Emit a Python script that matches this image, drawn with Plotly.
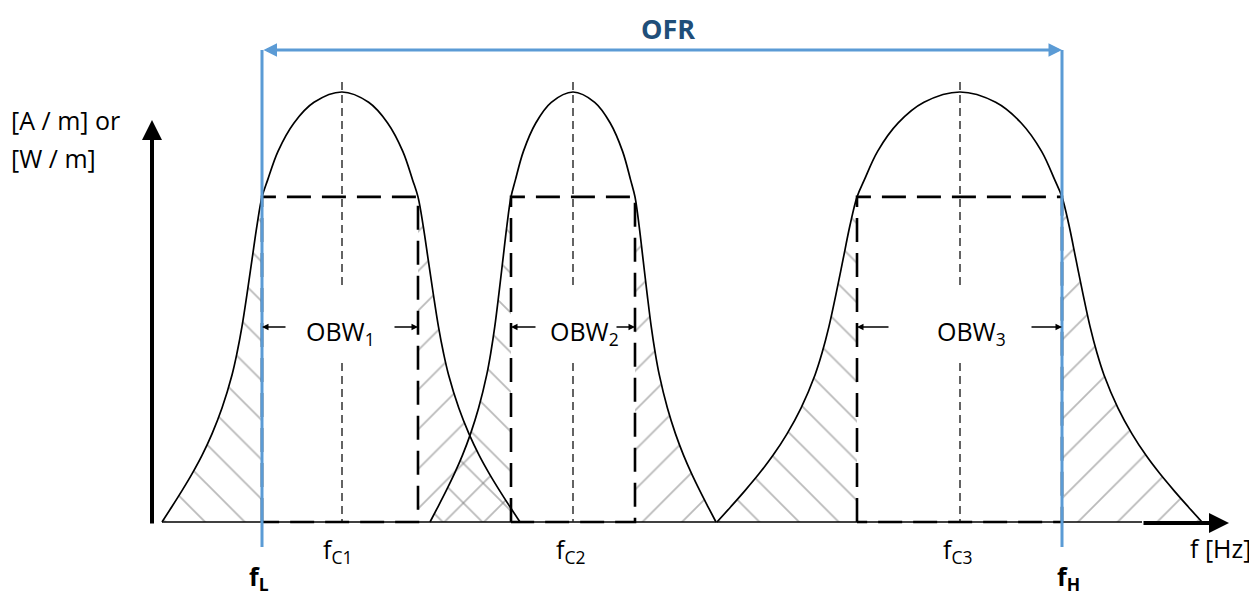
import plotly.graph_objects as go

# ---------------- data (frequency in arbitrary units, amplitude normalised: peak = 1) -------------
band_ids = ["1", "2", "3"]
centre_freq = [342, 573, 960]          # f_C1, f_C2, f_C3
foot_low = [162, 430, 717]             # where each emission meets the baseline (left)
foot_high = [520, 716, 1202]           # where each emission meets the baseline (right)
obw_low = [262, 511, 857]              # occupied bandwidth lower edges
obw_high = [418, 635, 1062]            # occupied bandwidth upper edges
peak_amp = [1.0, 1.0, 1.0]
obw_level = 0.756                      # amplitude of the OBW rectangle top
f_L = 262
f_H = 1062

# normalised bell profile
inner_t = [0.0, 0.35, 0.6, 0.8, 0.93, 1.0]          # centre -> OBW edge (fraction)
inner_r = [1.0, 0.976, 0.928, 0.862, 0.795, 0.756]
outer_s = [0.0, 0.05, 0.1, 0.15, 0.2, 0.25, 0.3, 0.4, 0.5, 0.6, 0.7, 0.8, 0.9, 1.0]  # OBW edge -> foot
outer_r = [0.756, 0.69, 0.61, 0.53, 0.455, 0.393, 0.342, 0.265, 0.205, 0.155, 0.112, 0.073, 0.036, 0.0]


def amp(py):
    """pixel row of the 1257x595 canvas -> amplitude (layout helper)"""
    return (522 - py) / 430


def side(c, edge, foot, pk):
    xs = [c + t * (edge - c) for t in inner_t] + [edge + s * (foot - edge) for s in outer_s[1:]]
    ys = [pk * r for r in inner_r] + [pk * r for r in outer_r[1:]]
    return xs, ys


fig = go.Figure()
HATCH = "#767676"

# hatched tails
for c, lo, hi, fl, fh, pk in zip(centre_freq, obw_low, obw_high, foot_low, foot_high, peak_amp):
    for edge, foot, shp in ((lo, fl, "\\"), (hi, fh, "/")):
        xs = [edge + s * (foot - edge) for s in outer_s] + [edge, edge]
        ys = [pk * r for r in outer_r] + [0, pk * outer_r[0]]
        fig.add_trace(go.Scatter(
            x=xs, y=ys, mode="lines", fill="toself", line=dict(width=0),
            fillcolor="rgba(0,0,0,0)",
            fillpattern=dict(shape=shp, size=28, solidity=0.065, fgcolor=HATCH,
                             bgcolor="rgba(0,0,0,0)"),
            hoverinfo="skip", showlegend=False))

# baseline (thin)
fig.add_trace(go.Scatter(x=[min(foot_low), 1142], y=[0, 0], mode="lines",
                         line=dict(color="black", width=1.5), hoverinfo="skip", showlegend=False))

# bell curves
for c, lo, hi, fl, fh, pk in zip(centre_freq, obw_low, obw_high, foot_low, foot_high, peak_amp):
    lx, ly = side(c, lo, fl, pk)
    rx, ry = side(c, hi, fh, pk)
    xs = lx[::-1] + rx[1:]
    ys = ly[::-1] + ry[1:]
    fig.add_trace(go.Scatter(x=xs, y=ys, mode="lines",
                             line=dict(color="black", width=1.7, shape="spline", smoothing=1.0),
                             hoverinfo="skip", showlegend=False))

# centre frequency dashed lines (gap behind OBW label)
for c in centre_freq:
    for y0, y1 in ((amp(82), amp(287)), (amp(363), 0)):
        fig.add_trace(go.Scatter(x=[c, c], y=[y0, y1], mode="lines",
                                 line=dict(color="#222222", width=1.4, dash="8px,5px"),
                                 hoverinfo="skip", showlegend=False))

# OBW dashed rectangles
for lo, hi in zip(obw_low, obw_high):
    fig.add_trace(go.Scatter(x=[lo, lo, hi, hi, lo], y=[0, obw_level, obw_level, 0, 0],
                             mode="lines", line=dict(color="black", width=2.6, dash="24px,11px"),
                             hoverinfo="skip", showlegend=False))

# blue f_L / f_H lines
for f in (f_L, f_H):
    fig.add_trace(go.Scatter(x=[f, f], y=[amp(50), amp(547)], mode="lines",
                             line=dict(color="#5B9BD5", width=3),
                             hoverinfo="skip", showlegend=False))

ann = []
FONT = "Open Sans"


def arrow(x, y, ax, ay, color="black", width=1.3, size=1.0, side_="end"):
    ann.append(dict(x=x, y=y, ax=ax, ay=ay, xref="x", yref="y", axref="x", ayref="y",
                    text="", showarrow=True, arrowhead=2, arrowsize=size, arrowwidth=width,
                    arrowcolor=color, arrowside=side_, standoff=0, startstandoff=0))


def label(x, y, text, size=25, color="black", xanchor="center"):
    ann.append(dict(x=x, y=y, xref="x", yref="y", text=text, showarrow=False,
                    xanchor=xanchor, yanchor="middle",
                    font=dict(family=FONT, size=size, color=color)))


# axes arrows
arrow(152, amp(120), 152, amp(525), width=4, size=1.0)
arrow(1229, amp(523), 1142, amp(523), width=4, size=1.0)
# OFR arrow
arrow(f_H, amp(50), f_L, amp(50), color="#5B9BD5", width=3, size=0.9, side_="end+start")

# OBW arrows and labels
obw_text_x = [340, 584, 971]
obw_tail_l = [287, 537, 890]
obw_tail_r = [393, 615, 1030]
for i, lo, hi in zip(band_ids, obw_low, obw_high):
    k = int(i) - 1
    arrow(lo, amp(327), obw_tail_l[k], amp(327))
    arrow(hi, amp(327), obw_tail_r[k], amp(327))
    label(obw_text_x[k], amp(332), f"OBW<sub>{i}</sub>")

# tick-like labels
fc_x = [337, 570, 957]
for i, x in zip(band_ids, fc_x):
    label(x, amp(550), f"f<sub>C{i}</sub>")
label(259, amp(577), "<b>f<sub>L</sub></b>")
label(1068, amp(577), "<b>f<sub>H</sub></b>")
label(1220, amp(548), "f [Hz]")
label(668, amp(28), "<b>OFR</b>", size=27, color="#1F4E79")
label(9, amp(120), "[A / m] or", xanchor="left")
label(9, amp(158), "[W / m]", xanchor="left")

# the page body adds an 8 px offset, so the visible window starts at pixel 8
fig.update_layout(
    width=1257, height=595,
    margin=dict(l=0, r=0, t=0, b=0, pad=0),
    paper_bgcolor="white", plot_bgcolor="white",
    xaxis=dict(range=[8, 1265], visible=False, fixedrange=True),
    yaxis=dict(range=[amp(603), amp(8)], visible=False, fixedrange=True),
    annotations=ann,
    showlegend=False,
)

fig.write_html("out.html")
